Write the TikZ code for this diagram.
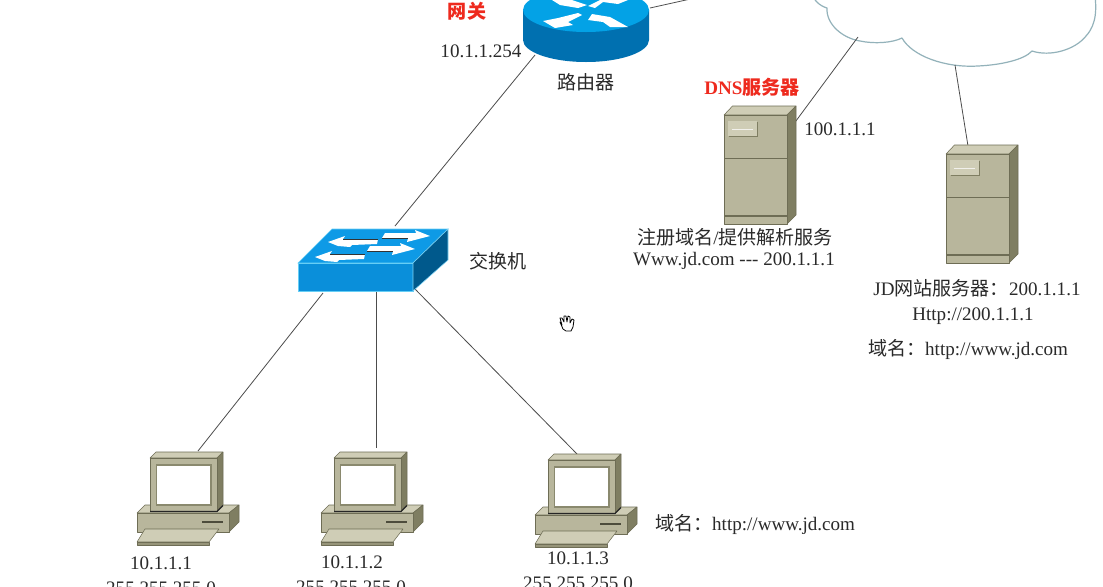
\documentclass[tikz,border=0pt]{standalone}
\usepackage{fontspec}
\setmainfont[Ligatures=NoCommon]{Liberation Serif}
\newfontfamily\cjk{Noto Sans CJK SC}
\definecolor{beige}{HTML}{B8B69C}
\definecolor{beigelt}{HTML}{CFCDB6}
\definecolor{beigedk}{HTML}{7F7E62}
\definecolor{beigeln}{HTML}{6E6D55}
\definecolor{txt}{HTML}{2A2A2A}
\definecolor{redtxt}{HTML}{EE2A1E}
\definecolor{rtop}{HTML}{03A2E6}
\definecolor{rside}{HTML}{0070B0}
\definecolor{stop}{HTML}{0E9AE6}
\definecolor{sfront}{HTML}{0A8FDA}
\definecolor{sside}{HTML}{00598C}
\definecolor{cloudln}{HTML}{93B2BA}
\tikzset{
  x=0.75pt,y=-0.75pt,
  lbl/.style={text=txt,font=\fontsize{14.3}{16}\selectfont,inner sep=0pt},
  redlbl/.style={text=redtxt,font=\fontsize{14.3}{16}\selectfont\bfseries,inner sep=0pt},
  wire/.style={draw=black!70,line width=0.6pt},
  part/.style={draw=beigeln,line width=0.4pt,line join=round},
  pcunit/.pic={
    % base
    \path[part,fill=beigelt] (-5,47) -- (-13,55) -- (79,55) -- (89,47) -- cycle;
    \path[part,fill=beigedk] (89,47) -- (89,64) -- (79,74) -- (79,55) -- cycle;
    \path[part,fill=beige] (-13,55) rectangle (79,74);
    \path[draw=beigeln!70!black,line width=1.1pt] (52,64) -- (73,64);
    % keyboard
    \path[part,fill=beigelt] (-5,71) -- (69,71) -- (59,84) -- (-13,84) -- cycle;
    \path[part,fill=beigedk!60!beige] (-13,84) -- (59,84) -- (59,87) -- (-13,87) -- cycle;
    % monitor
    \path[part,fill=beigelt] (0,0) -- (6,-6) -- (73,-6) -- (67,0) -- cycle;
    \path[part,fill=beigedk] (67,0) -- (73,-6) -- (73,47) -- (67,53) -- cycle;
    \path[part,fill=beige] (0,0) rectangle (67,53);
    \path[draw=black!85,line width=1pt] (0,53.5) -- (67,53.5) -- (73,47.5);
    \path[draw=beigedk!80!beige,fill=white,line width=0.8pt] (6.5,7) rectangle (61,47);
  },
  serverunit/.pic={
    \path[part,fill=beigelt] (0,0) -- (8.5,-9) -- (72,-9) -- (63,0) -- cycle;
    \path[part,fill=beigedk] (63,0) -- (72,-9) -- (72,100) -- (63,109) -- cycle;
    \path[part,fill=beige] (0,0) rectangle (63,109);
    \path[draw=beigeln,line width=1pt] (0,43.5) -- (63,43.5);
    \path[draw=beigeln,line width=1pt] (0,101) -- (63,101);
    \path[fill=beigelt] (4,6) rectangle (33,21);
    \path[draw=beigedk,line width=0.5pt] (4.5,21.3) -- (33.3,21.3) -- (33.3,6.5);
    \path[draw=white!80!beige,line width=0.5pt] (8,14) -- (29,14);
  },
  lefta/.pic={
    \path[fill=white] (0,0) -- (17,-6) -- (15,-3) -- (50,-3) -- (49,2) -- (24,3) -- (22,5) -- (10,4) -- cycle;
    \path[draw=black!80,line width=0.7pt] (15,-3) -- (50,-3);
  },
  righta/.pic={
    \path[fill=white] (0,0) -- (-15,-6) -- (-14,-3) -- (-45,-3) -- (-48,2) -- (-22,2) -- (-23,6) -- cycle;
    \path[draw=black!80,line width=0.7pt] (-48,2.4) -- (-22,2.4);
  }
}
\begin{document}
\begin{tikzpicture}
\useasboundingbox (0,0) rectangle (1103,586);
\clip (0,0) rectangle (1103,586);
\fill[white] (0,0) rectangle (1103,586);

% connector ends
\coordinate (rtSw) at (535,55);
\coordinate (swRt) at (395,226);
\coordinate (rtCl) at (650,8);
\coordinate (clRt) at (740,-12);
\coordinate (dnsCl) at (790,129);
\coordinate (clDns) at (858,37);
\coordinate (jdCl) at (968,146);
\coordinate (clJd) at (955,65);
\coordinate (swA) at (323,293);
\coordinate (swB) at (376,290);
\coordinate (swC) at (414,288);
\coordinate (pcA) at (198,451);
\coordinate (pcB) at (376,448);
\coordinate (pcC) at (577,454);

% cloud
\draw[draw=cloudln,fill=white,line width=0.9pt,line join=round]
  (810,-12) .. controls (812,0) and (820,6) .. (827,8)
  .. controls (826,24) and (842,38) .. (860,41)
  .. controls (874,44) and (892,43) .. (902,38)
  .. controls (912,56) and (945,68) .. (978,66)
  .. controls (1000,65) and (1024,60) .. (1032,51)
  .. controls (1050,57) and (1075,50) .. (1086,36)
  .. controls (1097,24) and (1097,8) .. (1094,-12) -- cycle;

% wires
\draw[wire] (rtSw) -- (swRt);
\draw[wire] (rtCl) -- (clRt);
\draw[wire] (dnsCl) -- (clDns);
\draw[wire] (jdCl) -- (clJd);
\draw[wire] (swA) -- (pcA);
\draw[wire] (swB) -- (pcB);
\draw[wire] (swC) -- (pcC);

% router
\fill[rside] (523,10) -- (523,40) .. controls (523,52) and (551,62) .. (586,62)
  .. controls (621,62) and (649,52) .. (649,40) -- (649,10) -- cycle;
\fill[rtop] (523,10) .. controls (523,-2) and (551,-12) .. (586,-12)
  .. controls (621,-12) and (649,-2) .. (649,10)
  .. controls (649,22) and (621,32) .. (586,32)
  .. controls (551,32) and (523,22) .. (523,10) -- cycle;
\fill[white] (543,21) -- (558,18) -- (578,13) -- (582,15) -- (568,22) -- (573,25) -- (555,28) -- cycle;
\fill[white] (588,20) -- (592,14) -- (610,17) -- (628,27) -- (610,27) -- (603,22) -- cycle;
\fill[white] (552,0) -- (560,5) -- (578,8) -- (587,5) -- (572,0) -- cycle;
\fill[white] (588,6) -- (600,0) -- (628,0) -- (618,4) -- (603,2) -- (595,8) -- cycle;

% switch
\path[fill=stop,draw=cyan!60,line width=0.4pt] (298,263) -- (332,229) -- (448,229) -- (413,263) -- cycle;
\path[fill=sfront,draw=cyan!60,line width=0.5pt] (298,263) rectangle (413,291);
\path[fill=sside,draw=cyan!50,line width=0.4pt] (413,263) -- (448,229) -- (448,260) -- (413,291) -- cycle;
\pic (arrowa) at (328,242) {lefta};
\pic (arrowb) at (430,236) {righta};
\pic (arrowc) at (315,257) {lefta};
\pic (arrowd) at (415,249) {righta};

% devices
\pic (dns) at (724,115) {serverunit};
\pic (jd) at (946,154) {serverunit};
\pic (pca) at (150,458) {pcunit};
\pic (pcb) at (334,458) {pcunit};
\pic (pcc) at (548,460) {pcunit};

% labels
\node[redlbl] (tgw) at (467,11) {\cjk 网关};
\node[lbl] (tgwip) at (481,51) {10.1.1.254};
\node[lbl] (trt) at (586,82) {\cjk 路由器};
\node[redlbl] (tdns) at (752,87) {DNS{\cjk 服务器}};
\node[lbl] (tdnsip) at (840,129) {100.1.1.1};
\node[lbl] (treg) at (735,237) {{\cjk 注册域名}/{\cjk 提供解析服务}};
\node[lbl] (tmap) at (734,261) {Www.jd.com {-}{-}{-} 200.1.1.1};
\node[lbl] (tsw) at (498,261) {\cjk 交换机};
\node[lbl] (tjd) at (977,288) {JD{\cjk 网站服务器：}200.1.1.1};
\node[lbl] (tjdh) at (973,316) {Http://200.1.1.1};
\node[lbl] (tjdn) at (968,349) {{\cjk 域名：}http://www.jd.com};
\node[lbl] (tpcn) at (755,524) {{\cjk 域名：}http://www.jd.com};
\node[lbl] (ta1) at (161,563) {10.1.1.1};
\node[lbl] (ta2) at (161,588) {255.255.255.0};
\node[lbl] (tb1) at (352,562) {10.1.1.2};
\node[lbl] (tb2) at (351,587) {255.255.255.0};
\node[lbl] (tc1) at (578,558) {10.1.1.3};
\node[lbl] (tc2) at (578,583) {255.255.255.0};

% hand cursor
\draw[black,fill=white,line width=0.6pt,line join=round,line cap=round]
  (560,322) -- (563,329) -- (566,331) -- (571,331) -- (573,327) -- (574,320)
  -- (572,319) -- (570,323) -- (570,317) -- (568,316) -- (567,322) -- (566,316)
  -- (564,316) -- (564,322) -- (562,318) -- (560,318) -- (562,325) -- cycle;
\end{tikzpicture}
\end{document}
